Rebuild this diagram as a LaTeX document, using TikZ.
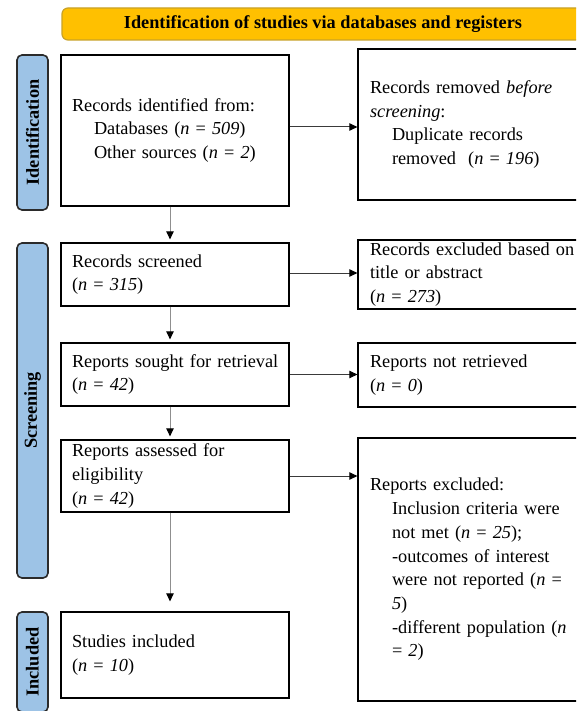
\documentclass[tikz,border=0pt]{standalone}
\usepackage{fontspec}
\setmainfont{Liberation Serif}
\usetikzlibrary{arrows.meta}
\definecolor{gold}{HTML}{FFC000}
\definecolor{golddark}{HTML}{C9A227}
\definecolor{labelblue}{HTML}{9DC3E6}
\definecolor{labeledge}{HTML}{2B2B2B}
\definecolor{vline}{HTML}{8F8F8F}
\definecolor{hline}{HTML}{3A3A3A}
\begin{document}
\begin{tikzpicture}[x=1pt,y=-1pt,
 every node/.style={font=\fontsize{18.3}{23.7}\selectfont},
 box/.style={draw=black, line width=1.3pt, fill=white, align=left, text width=206pt, inner xsep=11pt, inner ysep=0pt, anchor=center, execute at begin node={\hyphenpenalty=10000}},
 rbox/.style={box, text width=230pt, inner xsep=12pt},
 phase/.style={draw=labeledge, line width=1.6pt, fill=labelblue, rounded corners=5pt, rotate=90, minimum height=31pt, inner sep=0pt, font=\fontsize{18.3}{22}\selectfont\bfseries},
 titlebar/.style={draw=golddark, line width=1.2pt, fill=gold, rounded corners=6pt, minimum width=522pt, minimum height=32pt, inner sep=0pt, font=\fontsize{18.3}{22}\selectfont\bfseries},
 vconn/.style={line width=1pt, vline, shorten >=3pt, -{Triangle[length=8pt,width=7.5pt,color=black]}},
 hconn/.style={line width=1pt, hline, -{Triangle[length=8pt,width=7.5pt,color=black]}},
]
\useasboundingbox (0,0) rectangle (576,711);
\begin{scope}
\clip (0,0) rectangle (576,711);
\fill[white] (0,0) rectangle (576,711);

\node[titlebar] (title) at (323,24) {Identification of studies via databases and registers};

\node[phase, minimum width=155pt] (pid) at (32.5,132.5) {Identification};
\node[phase, minimum width=335pt] (psc) at (32.5,410.5) {Screening};
\node[phase, minimum width=100pt] (pin) at (32.5,662) {Included};

\node[box, minimum height=151pt] (b1) at (175,130.5) {Records identified from:\\
\hspace*{22pt}Databases (\textit{n} = \textit{509})\\
\hspace*{22pt}Other sources (\textit{n} = \textit{2})};
\node[box, minimum height=63pt] (b2) at (175,274.5) {Records screened\\(\textit{n} = \textit{315})};
\node[box, minimum height=63pt] (b3) at (175,374.5) {\mbox{Reports sought for retrieval}\\(\textit{n} = \textit{42})};
\node[box, minimum height=72pt] (b4) at (175,476) {Reports assessed for\\eligibility\\(\textit{n} = \textit{42})};
\node[box, minimum height=86pt] (b5) at (175,655) {Studies included\\(\textit{n} = \textit{10})};

\node[rbox, minimum height=151pt] (r1) at (485,124.5) {Records removed \textit{before}\\
\textit{screening}:\\
\hspace*{22pt}Duplicate records\\
\hspace*{22pt}removed\ \ (\textit{n} = \textit{196})};
\node[rbox, minimum height=69pt] (r2) at (485,274.5) {Records excluded based on\\title or abstract\\(\textit{n} = \textit{273})};
\node[rbox, minimum height=64pt] (r3) at (485,375) {Reports not retrieved\\(\textit{n} = \textit{0})};
\node[rbox, minimum height=263pt] (r4) at (485,569.5) {Reports excluded:\\
\hspace*{22pt}Inclusion criteria were\\
\hspace*{22pt}not met (\textit{n} = \textit{25});\\
\hspace*{22pt}-outcomes of interest\\
\hspace*{22pt}were not reported (\textit{n} =\\
\hspace*{22pt}\textit{5})\\
\hspace*{22pt}-different population (\textit{n}\\
\hspace*{22pt}= \textit{2})};

% vertical connectors
\draw[vconn] ([xshift=-5pt]b1.south) -- ([xshift=-5pt]b2.north);
\draw[vconn] ([xshift=-5pt]b2.south) -- ([xshift=-5pt]b3.north);
\draw[vconn] ([xshift=-5pt]b3.south) -- ([xshift=-5pt]b4.north);
\draw[vconn, shorten >=10pt] ([xshift=-5pt]b4.south) -- ([xshift=-5pt]b5.north);

% horizontal connectors
\coordinate (a1) at ([yshift=3.5pt]b1.east);
\draw[hconn] (a1) -- (a1 -| r1.west);
\draw[hconn] ([yshift=1.5pt]b2.east) coordinate (a2) -- (a2 -| r2.west);
\draw[hconn] (b3.east) -- (b3.east -| r3.west);
\draw[hconn] (b4.east) -- (b4.east -| r4.west);
\end{scope}
\end{tikzpicture}
\end{document}
